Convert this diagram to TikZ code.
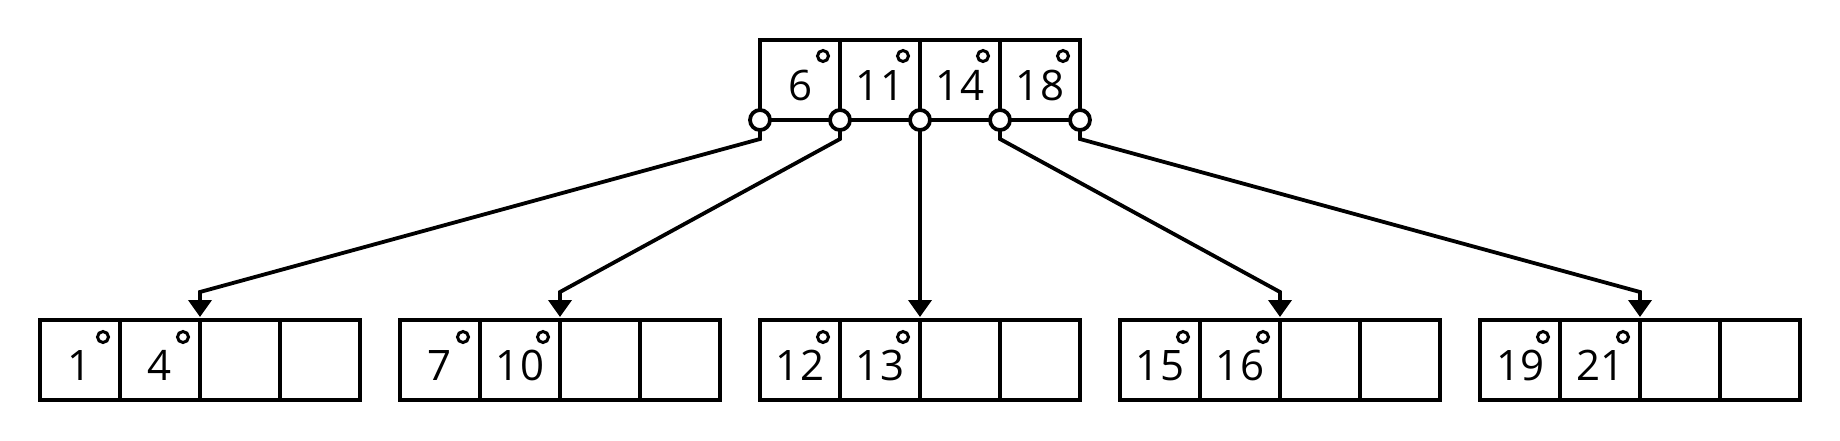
\documentclass[tikz,border=0pt]{standalone}
\usepackage{fontspec}
\setmainfont{Open Sans}
\usetikzlibrary{arrows.meta,calc}
\begin{document}
\begin{tikzpicture}[x=1pt,y=-1pt,
 cell/.style={draw,line width=3.8pt,outer sep=0pt,minimum width=80pt,minimum height=80pt,inner sep=0pt,anchor=north west,text height=40pt,text depth=0pt,font=\fontsize{42}{50}\selectfont},
 ring/.style={draw,circle,line width=3pt,outer sep=0pt,minimum size=11pt,inner sep=0pt},
 ptr/.style={draw,circle,fill=white,line width=3.8pt,outer sep=0pt,minimum size=20pt,inner sep=0pt},
 link/.style={line width=3.8pt,-{Triangle[width=23pt,length=17pt]}}]
\useasboundingbox (0,0) rectangle (1840,440);
% root
\foreach \k/\v in {1/6,2/11,3/14,4/18}{
  \node[cell] (R\k) at ({680+80*\k},40) {\v};
  \node[ring] (RR\k) at ($(R\k.north west)+(63,16)$) {};
}
% leaves
\foreach \i/\a/\b in {1/1/4,2/7/10,3/12/13,4/15/16,5/19/21}{
  \node[cell] (L\i-1) at ({40+360*(\i-1)},320) {\a};
  \node[cell] (L\i-2) at ($(L\i-1.north east)$) {\b};
  \node[cell] (L\i-3) at ($(L\i-2.north east)$) {};
  \node[cell] (L\i-4) at ($(L\i-3.north east)$) {};
  \node[ring] (LR\i-1) at ($(L\i-1.north west)+(63,17)$) {};
  \node[ring] (LR\i-2) at ($(L\i-2.north west)+(63,17)$) {};
}
% links
\coordinate (P0) at (R1.south west);
\coordinate (P1) at (R1.south east);
\coordinate (P2) at (R2.south east);
\coordinate (P3) at (R3.south east);
\coordinate (P4) at (R4.south east);
\draw[link] (P0) -- ($(P0)+(0,19)$) -- ($(L1-2.north east)+(0,-28)$) -- ($(L1-2.north east)+(0,-3)$);
\draw[link] (P1) -- ($(P1)+(0,19)$) -- ($(L2-2.north east)+(0,-28)$) -- ($(L2-2.north east)+(0,-3)$);
\draw[link] (P2) -- ($(L3-2.north east)+(0,-3)$);
\draw[link] (P3) -- ($(P3)+(0,19)$) -- ($(L4-2.north east)+(0,-28)$) -- ($(L4-2.north east)+(0,-3)$);
\draw[link] (P4) -- ($(P4)+(0,19)$) -- ($(L5-2.north east)+(0,-28)$) -- ($(L5-2.north east)+(0,-3)$);
\foreach \k in {0,...,4}{
  \node[ptr] (C\k) at (P\k) {};
}
\end{tikzpicture}
\end{document}
